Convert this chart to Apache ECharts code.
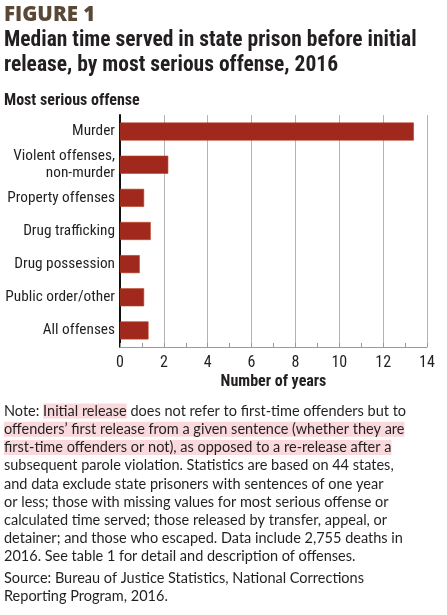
<!DOCTYPE html>
<html>
<head>
<meta charset="utf-8">
<script src="https://cdn.jsdelivr.net/npm/echarts@6/dist/echarts.min.js"></script>
<style>
  html, body { margin: 0; padding: 0; background: #fff; }
  #chart { width: 447px; height: 615px; }
</style>
</head>
<body>
<div id="chart"></div>
<script>
// categories, top to bottom
const offenses = [
  'Murder',
  'Violent offenses,\nnon-murder',
  'Property offenses',
  'Drug trafficking',
  'Drug possession',
  'Public order/other',
  'All offenses'
];
// median years served
const years = [13.4, 2.2, 1.1, 1.4, 0.9, 1.1, 1.3];
const xTicks = [0, 2, 4, 6, 8, 10, 12, 14];

const condensed = '"Liberation Sans Narrow", "Roboto Condensed", "Arial Narrow", sans-serif';
const bodyFont = 'Lato, "Open Sans", sans-serif';
const ink = '#231f20';
const red = '#b0352c';
const pink = 'rgba(244, 170, 180, 0.45)';

const noteLines = [
  'Note: {r|Initial release} does not refer to first-time offenders but to',
  '{r|offenders\u2019 first release from a given sentence (whether they are}',
  '{r|first-time offenders or not)}{p|, as opposed to a re-release after a}',
  'subsequent parole violation. Statistics are based on 44 states,',
  'and data exclude state prisoners with sentences of one year',
  'or less; those with missing values for most serious offense or',
  'calculated time served; those released by transfer, appeal, or',
  'detainer; and those who escaped. Data include 2,755 deaths in',
  '2016. See table 1 for detail and description of offenses.'
];
const sourceLines = [
  'Source: Bureau of Justice Statistics, National Corrections',
  'Reporting Program, 2016.'
];

const chart = echarts.init(document.getElementById('chart'), null, {renderer: 'canvas'});

const noteStyle = {
  fontFamily: bodyFont,
  fontSize: 14.5,
  fill: ink,
  rich: {
    r: {fontFamily: bodyFont, fontSize: 14.5, color: red, backgroundColor: pink},
    p: {fontFamily: bodyFont, fontSize: 14.5, color: ink, backgroundColor: pink}
  }
};

const option = {
  animation: false,
  backgroundColor: '#fff',
  grid: {left: 120, right: 20, top: 115, bottom: 268, containLabel: false, outerBoundsMode: 'none'},
  xAxis: {
    type: 'value',
    min: 0,
    max: 14,
    interval: 2,
    name: 'Number of years',
    nameLocation: 'middle',
    nameGap: 27,
    nameTextStyle: {fontFamily: condensed, fontWeight: 'bold', fontSize: 16, color: ink},
    axisLine: {show: true, lineStyle: {color: '#9a9a9a', width: 1}},
    axisTick: {show: true, inside: true, length: 4, lineStyle: {color: '#9a9a9a'}},
    minorTick: {show: true, splitNumber: 2, length: 4, lineStyle: {color: '#9a9a9a'}},
    axisLabel: {
      fontFamily: condensed, fontSize: 16, color: ink, margin: 8,
      formatter: v => (xTicks.includes(v) ? String(v) : '')
    },
    splitLine: {show: true, lineStyle: {color: '#b4b4b4', width: 1}}
  },
  yAxis: {
    type: 'category',
    inverse: true,
    data: offenses,
    axisLine: {show: true, lineStyle: {color: '#111', width: 2}},
    axisTick: {show: false},
    axisLabel: {
      fontFamily: condensed, fontSize: 15.3, color: ink, margin: 5, lineHeight: 17, align: 'right'
    }
  },
  series: [
    {
      type: 'bar',
      data: years,
      barWidth: 18,
      itemStyle: {color: '#a0281d', borderColor: '#b8401f', borderWidth: 0.6},
      z: 3
    }
  ],
  graphic: [
    {
      type: 'text', left: 4, top: 5,
      style: {text: 'FIGURE 1', fontFamily: '"Open Sans", sans-serif', fontWeight: 900, fontSize: 20.5, fill: '#5a4836'}
    },
    {
      type: 'text', left: 4, top: 28,
      style: {
        text: 'Median time served in state prison before initial\nrelease, by most serious offense, 2016',
        fontFamily: condensed, fontWeight: 'bold', fontSize: 21.5, lineHeight: 25, fill: ink
      }
    },
    {
      type: 'text', left: 4, top: 93,
      style: {text: 'Most serious offense', fontFamily: condensed, fontWeight: 'bold', fontSize: 16, fill: ink}
    },
    {
      type: 'text', left: 4, top: 402,
      style: Object.assign({text: noteLines.join('\n'), lineHeight: 18.2}, noteStyle)
    },
    {
      type: 'text', left: 4, top: 569,
      style: Object.assign({text: sourceLines.join('\n'), lineHeight: 18.2}, noteStyle)
    }
  ]
};

chart.setOption(option);
</script>
</body>
</html>
